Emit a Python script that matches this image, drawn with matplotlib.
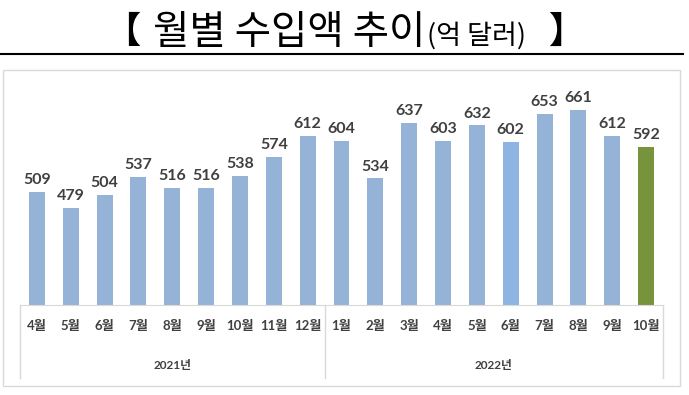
import matplotlib.pyplot as plt
from matplotlib.patches import Rectangle
from matplotlib.lines import Line2D

# monthly import amount (100 million USD)
months = ["4월", "5월", "6월", "7월", "8월", "9월", "10월", "11월", "12월",
          "1월", "2월", "3월", "4월", "5월", "6월", "7월", "8월", "9월", "10월"]
values = [509, 479, 504, 537, 516, 516, 538, 574, 612,
          604, 534, 637, 603, 632, 602, 653, 661, 612, 592]
years = ["2021년", "2022년"]
year_counts = [9, 10]

bar_colors = ["#95B3D7"] * len(values)
bar_colors[14] = "#8DB4E2"
bar_colors[-1] = "#77933C"

W, H = 689, 395
KR = ["Noto Sans CJK KR"]
fig = plt.figure(figsize=(W / 100, H / 100), dpi=100)

def px(x, y):
    # pixel position (from top-left) -> figure fraction
    return x / W, 1 - y / H

# title pieces + rule under it
fig.text(*px(140, 43), "【", fontsize=26, ha="right", va="baseline", family=KR, fontweight="bold")
main = fig.text(*px(153, 44), "월별 수입액 추이", fontsize=28.5, ha="left", va="baseline", family=KR)
fig.canvas.draw()
main_end = main.get_window_extent().x1
fig.text(main_end / W + 2 / W, 1 - 44 / H, "(억 달러)", fontsize=19.5, ha="left", va="baseline", family=KR)
fig.text(*px(548, 43), "】", fontsize=26, ha="left", va="baseline", family=KR, fontweight="bold")
fig.add_artist(Line2D([0, 683 / W], [1 - 54 / H, 1 - 54 / H], color="black", lw=1.5))

# outer chart frame
fig.add_artist(Rectangle(px(3, 386), 677 / W, 316 / H, fill=False, edgecolor="#D9D9D9", lw=1))

ax_l, ax_r, ax_b, ax_t = 20, 663, 305, 88.6
ax = fig.add_axes([ax_l / W, 1 - ax_b / H, (ax_r - ax_l) / W, (ax_b - ax_t) / H])
x = list(range(len(values)))
ax.bar(x, [v - 300 for v in values], bottom=300, width=0.47, color=bar_colors)
ax.set_xlim(-0.5, len(values) - 0.5)
ax.set_ylim(300, 700)
for s in ["top", "right", "left"]:
    ax.spines[s].set_visible(False)
ax.spines["bottom"].set_color("#D9D9D9")
ax.set_yticks([])
ax.set_xticks([])

unit = 0.5425  # pixels per value unit
for xi, v in zip(x, values):
    ax.text(xi, v + 9, str(v), ha="center", va="bottom", fontsize=11.5, fontweight="bold",
            color="#404040", family=["Lato", "DejaVu Sans"])

for xi, m in zip(x, months):
    ax.text(xi, 300 - 21 / unit, m, ha="center", va="center", fontsize=9.5, fontweight="bold",
            color="#404040", family=["Lato"] + KR, clip_on=False)

# group separators and year labels
seps = [-0.5]
for c in year_counts:
    seps.append(seps[-1] + c)
for s in seps:
    ax.add_artist(Line2D([s, s], [300, 300 - 73 / unit], color="#D9D9D9", lw=1, clip_on=False))
for i, y in enumerate(years):
    mid = (seps[i] + seps[i + 1]) / 2
    ax.text(mid, 300 - 61 / unit, y, ha="center", va="center", fontsize=8.5,
            fontweight="bold", color="#404040", family=["Lato"] + KR, clip_on=False)

fig.savefig("out.png", dpi=100)
